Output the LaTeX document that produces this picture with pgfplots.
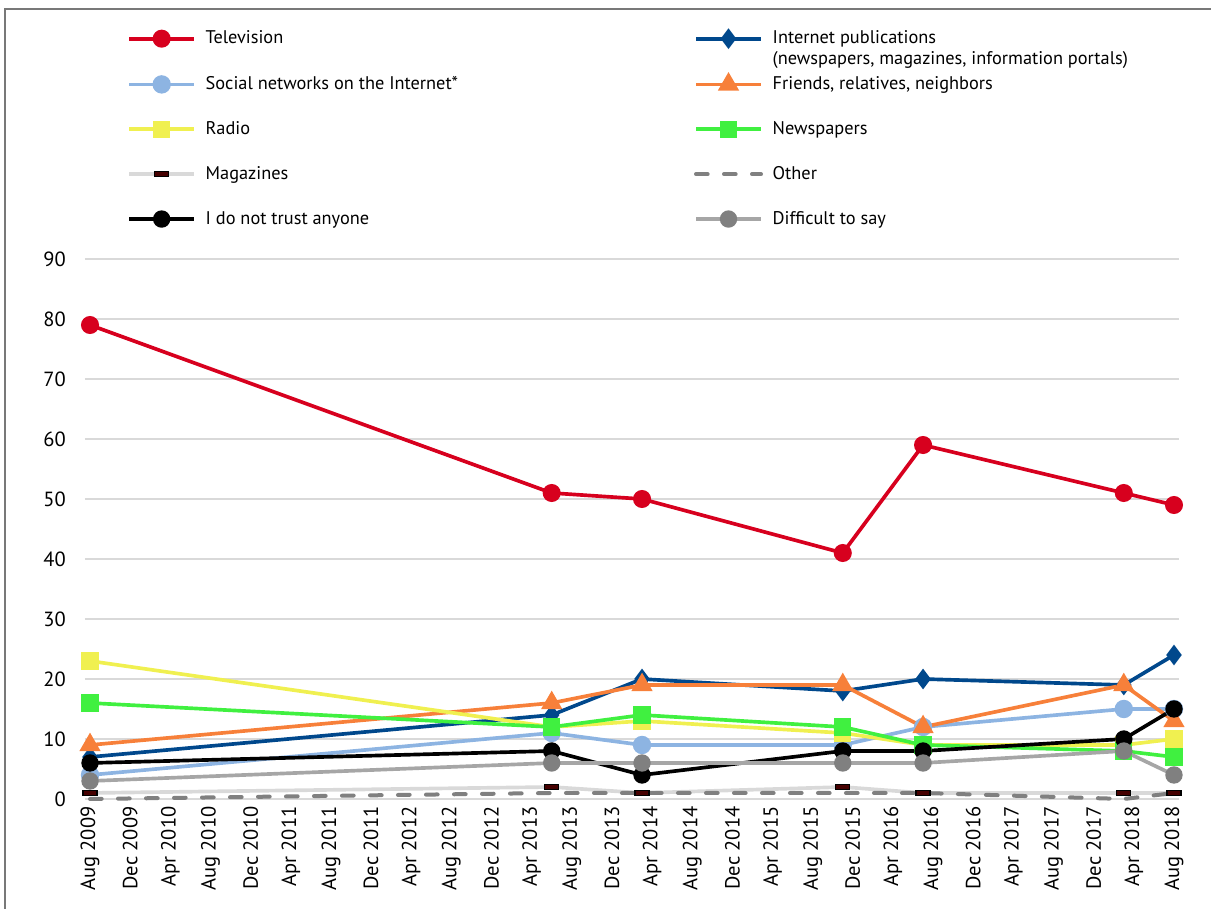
\documentclass[border=0pt]{standalone}
\usepackage{pgfplots}
\pgfplotsset{compat=1.18}
\usepackage{fontspec}
\setmainfont{PT Sans}

\definecolor{tvred}{RGB}{215,0,30}
\definecolor{netblue}{RGB}{0,72,140}
\definecolor{socblue}{RGB}{141,180,226}
\definecolor{frorange}{RGB}{247,128,58}
\definecolor{radyellow}{RGB}{240,240,80}
\definecolor{newsgreen}{RGB}{64,240,64}
\definecolor{maggray}{RGB}{217,217,217}
\definecolor{magmark}{RGB}{70,0,0}
\definecolor{othgray}{RGB}{128,128,128}
\definecolor{difline}{RGB}{166,166,166}
\definecolor{difmark}{RGB}{128,128,128}
\definecolor{gridgray}{RGB}{217,217,217}
\definecolor{framegray}{RGB}{120,120,120}

\begin{document}
\begin{tikzpicture}
\useasboundingbox (0,0) rectangle (726.6pt,545.4pt);
\draw[framegray, line width=1.2pt] (2.7pt,-1pt) -- (2.7pt,539.7pt) -- (727pt,539.7pt);
\begin{axis}[
  at={(51pt,66pt)}, anchor=south west,
  scale only axis, width=656.4pt, height=324pt,
  xmin=-0.5, xmax=108.5, ymin=0, ymax=90,
  clip=false,
  axis line style={draw=none},
  tick style={draw=none},
  ymajorgrids, grid style={color=gridgray, line width=1pt},
  ytick={0,10,...,90},
  xtick={0,4,...,108},
  xticklabels={Aug 2009,Dec 2009,Apr 2010,Aug 2010,Dec 2010,Apr 2011,Aug 2011,Dec 2011,Apr 2012,Aug 2012,Dec 2012,Apr 2013,Aug 2013,Dec 2013,Apr 2014,Aug 2014,Dec 2014,Apr 2015,Aug 2015,Dec 2015,Apr 2016,Aug 2016,Dec 2016,Apr 2017,Aug 2017,Dec 2017,Apr 2018,Aug 2018},
  xticklabel style={rotate=90, anchor=east, font=\fontsize{12.3}{14}\selectfont, xshift=-1pt},
  yticklabel style={font=\fontsize{12.3}{14}\selectfont, xshift=-8pt},
  /pgf/number format/assume math mode=true,
  legend columns=2,
  legend cell align=left,
  legend style={draw=none, fill=none, inner sep=0pt,
    at={(axis description cs:0.0384,1.4230)}, anchor=north west,
    font=\fontsize{11}{13}\selectfont,
    nodes={inner sep=0pt},
    row sep=17.6pt, column sep=0pt},
  legend image code/.code={
    \draw[mark repeat=2, mark phase=2, #1] plot coordinates {(0pt,0pt) (19.5pt,0pt) (39pt,0pt)};
    \path (44.8pt,0pt);
  },
  every axis plot/.append style={line width=2.2pt},
]
% Television
\addplot[color=tvred, mark=*, mark size=4.3pt, mark options={solid}]
  coordinates {(0,79) (46,51) (55,50) (75,41) (83,59) (103,51) (108,49)};
\addlegendentry{\makebox[293pt][l]{Television}}
% Internet publications
\addplot[color=netblue, mark=diamond*, mark size=4.4pt, mark options={solid}]
  coordinates {(0,7) (46,14) (55,20) (75,18) (83,20) (103,19) (108,24)};
\addlegendentry{\smash{\raisebox{-3.5pt}{\begin{tabular}[t]{@{}l@{}}Internet publications\\[0pt](newspapers, magazines, information portals)\end{tabular}}}}
% Social networks
\addplot[color=socblue, mark=*, mark size=4.4pt, mark options={solid}]
  coordinates {(0,4) (46,11) (55,9) (75,9) (83,12) (103,15) (108,15)};
\addlegendentry{\makebox[293pt][l]{Social networks on the Internet*}}
% Friends, relatives, neighbors
\addplot[color=frorange, mark=triangle*, mark size=5.2pt, mark options={solid}]
  coordinates {(0,9) (46,16) (55,19) (75,19) (83,12) (103,19) (108,13)};
\addlegendentry{Friends, relatives, neighbors}
% Radio
\addplot[color=radyellow, mark=square*, mark size=4.1pt, mark options={solid}]
  coordinates {(0,23) (46,12) (55,13) (75,11) (83,9) (103,9) (108,10)};
\addlegendentry{\makebox[293pt][l]{Radio}}
% Newspapers
\addplot[color=newsgreen, mark=square*, mark size=4.1pt, mark options={solid}]
  coordinates {(0,16) (46,12) (55,14) (75,12) (83,9) (103,8) (108,7)};
\addlegendentry{Newspapers}
% Magazines
\addplot[color=maggray, mark=square*, mark size=4.2pt,
  mark options={solid, draw=black, fill=magmark, line width=0.8pt, yscale=0.36}]
  coordinates {(0,1) (46,2) (55,1) (75,2) (83,1) (103,1) (108,1)};
\addlegendentry{\makebox[293pt][l]{Magazines}}
% Other
\addplot[color=othgray, line cap=round, line width=2.4pt, dash pattern=on 7pt off 9.8pt]
  coordinates {(0,0) (46,1) (55,1) (75,1) (83,1) (103,0) (108,1)};
\addlegendentry{Other}
% I do not trust anyone
\addplot[color=black, mark=*, mark size=4.1pt, mark options={solid}]
  coordinates {(0,6) (46,8) (55,4) (75,8) (83,8) (103,10) (108,15)};
\addlegendentry{\makebox[293pt][l]{I do not trust anyone}}
% Difficult to say
\addplot[color=difline, mark=*, mark size=4.1pt, mark options={solid, draw=difmark, fill=difmark}]
  coordinates {(0,3) (46,6) (55,6) (75,6) (83,6) (103,8) (108,4)};
\addlegendentry{Difficult to say}
\end{axis}
\end{tikzpicture}
\end{document}
